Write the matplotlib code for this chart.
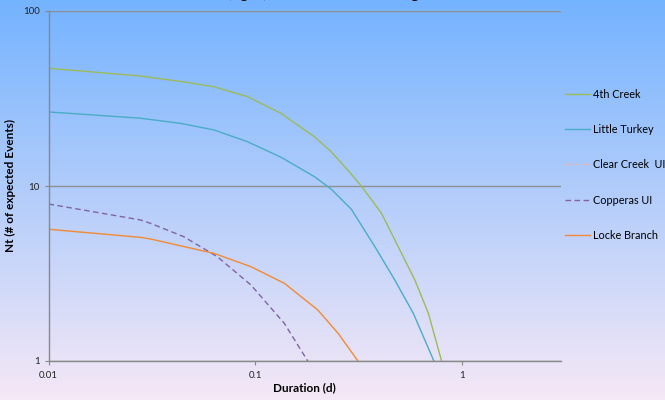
import numpy as np
import matplotlib
matplotlib.use("Agg")
import matplotlib.pyplot as plt
from matplotlib.ticker import FixedLocator, NullLocator

plt.rcParams['font.family'] = ['Lato', 'DejaVu Sans']

title = "Cu (ug/L) over the Chronic Target Level"
xlabel = "Duration (d)"
ylabel = "Nt (# of expected Events)"

# 4th Creek
creek4_x = [0.01, 0.0278, 0.0435, 0.0631, 0.0917, 0.133, 0.193, 0.2325, 0.280, 0.325,
            0.407, 0.490, 0.590, 0.686, 0.794]
creek4_y = [47.1, 42.5, 39.6, 36.9, 32.4, 26.0, 19.1, 15.7, 12.3, 10.0,
            6.98, 4.50, 2.90, 1.87, 1.0]
# Little Turkey
turkey_x = [0.01, 0.0278, 0.0435, 0.0631, 0.0917, 0.133, 0.193, 0.222, 0.233, 0.291,
            0.378, 0.472, 0.580, 0.729]
turkey_y = [26.5, 24.4, 22.8, 20.9, 17.9, 14.6, 11.3, 10.0, 9.57, 7.36,
            4.50, 2.90, 1.87, 1.0]
# Clear Creek UI (no values visible above 1)
clear_x = []
clear_y = []
# Copperas UI
copperas_x = [0.01, 0.0278, 0.0311, 0.0451, 0.0655, 0.0951, 0.138, 0.179]
copperas_y = [7.89, 6.40, 6.12, 5.13, 3.94, 2.72, 1.64, 1.0]
# Locke Branch
locke_x = [0.01, 0.0278, 0.0311, 0.0631, 0.0951, 0.138, 0.200, 0.251, 0.313]
locke_y = [5.66, 5.09, 4.98, 4.12, 3.46, 2.78, 1.96, 1.44, 1.0]

series_names = ["4th Creek", "Little Turkey", "Clear Creek  UI", "Copperas UI", "Locke Branch"]

xticks = [0.01, 0.1, 1]
xtick_labels = ["0.01", "0.1", "1"]
yticks = [1, 10, 100]
ytick_labels = ["1", "10", "100"]

fig = plt.figure(figsize=(6.65, 4.0), dpi=100)

# background gradient
bg = fig.add_axes([0, 0, 1, 1], zorder=-10)
top = np.array([116, 179, 255]) / 255.0
bot = np.array([245, 232, 246]) / 255.0
t = np.linspace(0, 1, 256)[:, None]
grad = top[None, :] * (1 - t) + bot[None, :] * t
bg.imshow(grad[:, None, :], aspect='auto', extent=[0, 1, 0, 1])
bg.set_axis_off()

ax = fig.add_axes([0.073, 0.0975, 0.7706, 0.875])
ax.patch.set_alpha(0)
ax.set_xscale('log')
ax.set_yscale('log')
ax.set_xlim(0.01, 3.0)
ax.set_ylim(1, 100)

lines = []
lines += ax.plot(creek4_x, creek4_y, color='#9BBB59', lw=1.0, label=series_names[0])
lines += ax.plot(turkey_x, turkey_y, color='#4BACC6', lw=1.0, label=series_names[1])
lines += ax.plot(clear_x, clear_y, color='#E6B9B8', lw=1.0, ls=(0, (4, 2.5)), label=series_names[2])
lines += ax.plot(copperas_x, copperas_y, color='#8064A2', lw=1.0, ls=(0, (4, 2.5)), label=series_names[3])
lines += ax.plot(locke_x, locke_y, color='#F38A32', lw=1.0, label=series_names[4])

ax.xaxis.set_major_locator(FixedLocator(xticks))
ax.set_xticklabels(xtick_labels)
ax.xaxis.set_minor_locator(NullLocator())
ax.yaxis.set_major_locator(FixedLocator(yticks))
ax.set_yticklabels(ytick_labels)
ax.yaxis.set_minor_locator(NullLocator())
ax.tick_params(axis='both', labelsize=7, colors='#888888', labelcolor='#222222', length=3, width=0.8)
ax.tick_params(axis='x', pad=4)

for s in ['top', 'right']:
    ax.spines[s].set_visible(False)
for s in ['left', 'bottom']:
    ax.spines[s].set_color('#888888')
    ax.spines[s].set_linewidth(1.0)

ax.grid(axis='y', which='major', color='#8f8f8f', lw=1.0)
ax.set_axisbelow(True)

ax.set_xlabel(xlabel, fontsize=8.5, fontweight='bold', labelpad=2)
ax.set_ylabel(ylabel, fontsize=8.5, fontweight='bold', labelpad=5)

# title sits mostly above the top edge, as in the reference
fig.text(0.51, 1.005, title, ha='center', va='baseline', fontsize=11, fontweight='bold')

fig.legend(handles=lines, loc='upper left', bbox_to_anchor=(565 / 665, 1 - 88.5 / 400),
           frameon=False, fontsize=7.8, handlelength=2.3, handletextpad=0.3,
           labelspacing=2.25, borderpad=0, borderaxespad=0)

fig.savefig("out.png", dpi=100)
